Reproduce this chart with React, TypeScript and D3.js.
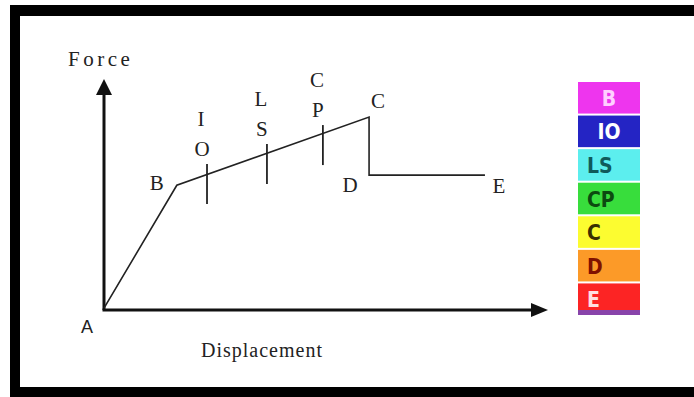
import React from "react";
import * as d3 from "d3";

// capacity curve points, in chart units (displacement 0-100, force 0-100)
const curveLabels = ["A", "B", "C", "D", "E"];
const curveDisp = [0, 16.4, 59.7, 59.7, 85.8];
const curveForce = [0.8, 54, 83.5, 58.4, 58.4];

// performance level ticks along B-C
const tickNames = [["I", "O"], ["L", "S"], ["C", "P"]];
const tickDisp = [23.2, 36.7, 49.3];
const tickForce = [58.4, 67.1, 75.3];

// legend
const legendLabels = ["B", "IO", "LS", "CP", "C", "D", "E"];
const legendFill = ["#ee35ee", "#2424c4", "#5ceeee", "#38dd3c", "#fcfc30", "#fc9a28", "#fc2424"];
const legendText = ["#ffd0ff", "#ffffff", "#105a5a", "#0c4a10", "#3a3000", "#801000", "#ffe0e0"];

const W = 694;
const H = 397;
const serif = "'Liberation Serif', 'DejaVu Serif', serif";

const x = d3.scaleLinear().domain([0, 100]).range([104, 548]);
const y = d3.scaleLinear().domain([0, 100]).range([310, 79]);

// label offsets next to each curve point
const labelDx = [-17, -20, 9, -19, 14];
const labelDy = [25, 5, -9, 17, 18];

const App = () => {
  const pts = curveDisp.map((d, i) => [x(d), y(curveForce[i])] as [number, number]);
  const line = d3.line()(pts) || "";

  const legendY = d3.scaleBand().domain(legendLabels).range([82, 315]).paddingInner(0.06);

  return (
    <svg width={W} height={H} style={{ position: "absolute", left: 0, top: 0, background: "#fff" }}>
      {/* frame */}
      <rect x={10} y={5} width={W - 10} height={11} fill="#000" />
      <rect x={10} y={5} width={10} height={H - 5} fill="#000" />
      <rect x={10} y={387} width={W - 10} height={10} fill="#000" />

      {/* axes */}
      <line x1={x(0)} y1={y(0)} x2={x(0)} y2={y(100) + 12} stroke="#111" strokeWidth={3} />
      <path d={`M${x(0)},${y(100)} L${x(0) - 8},${y(100) + 16} L${x(0) + 8},${y(100) + 16} Z`} fill="#111" />
      <line x1={x(0) - 1.5} y1={y(0)} x2={x(100) - 12} y2={y(0)} stroke="#111" strokeWidth={3} />
      <path d={`M${x(100)},${y(0)} L${x(100) - 17},${y(0) - 7} L${x(100) - 17},${y(0) + 7} Z`} fill="#111" />

      <text x={68} y={66} fontFamily={serif} fontSize={21} letterSpacing={3.5} fill="#222">Force</text>
      <text x={262} y={357} fontFamily={serif} fontSize={20} letterSpacing={1} textAnchor="middle" fill="#222">
        Displacement
      </text>

      {/* curve */}
      <path d={line} fill="none" stroke="#222" strokeWidth={1.6} />

      {curveLabels.map((l, i) => (
        <text
          key={l}
          x={pts[i][0] + labelDx[i]}
          y={pts[i][1] + labelDy[i]}
          fontFamily={i === 0 ? "'Liberation Sans', sans-serif" : serif}
          fontSize={i === 0 ? 18 : 21}
          textAnchor="middle"
          fill="#222"
        >
          {l}
        </text>
      ))}

      {tickNames.map((n, i) => {
        const tx = x(tickDisp[i]);
        const ty = y(tickForce[i]);
        return (
          <g key={n.join("")}>
            <line x1={tx} y1={ty - 11} x2={tx} y2={ty + 29} stroke="#222" strokeWidth={1.8} />
            <text x={tx - 5} y={ty - 19} fontFamily={serif} fontSize={21} textAnchor="middle" fill="#222">
              {n[1]}
            </text>
            <text x={tx - 6} y={ty - 49} fontFamily={serif} fontSize={21} textAnchor="middle" fill="#222">
              {n[0]}
            </text>
          </g>
        );
      })}

      {/* legend */}
      {legendLabels.map((l, i) => (
        <g key={l + i}>
          <rect x={578} y={legendY(l)} width={62} height={legendY.bandwidth()} fill={legendFill[i]} />
          <text
            x={i < 2 ? 609 : 587}
            y={(legendY(l) || 0) + legendY.bandwidth() / 2 + 8}
            textAnchor={i < 2 ? "middle" : "start"}
            fontFamily="'DejaVu Sans Condensed', 'Liberation Sans Narrow', sans-serif"
            fontWeight="bold"
            fontSize={21}
            fill={legendText[i]}
          >
            {l}
          </text>
        </g>
      ))}
      <rect x={578} y={310} width={62} height={5} fill="#8844aa" />
    </svg>
  );
};

export default App;
